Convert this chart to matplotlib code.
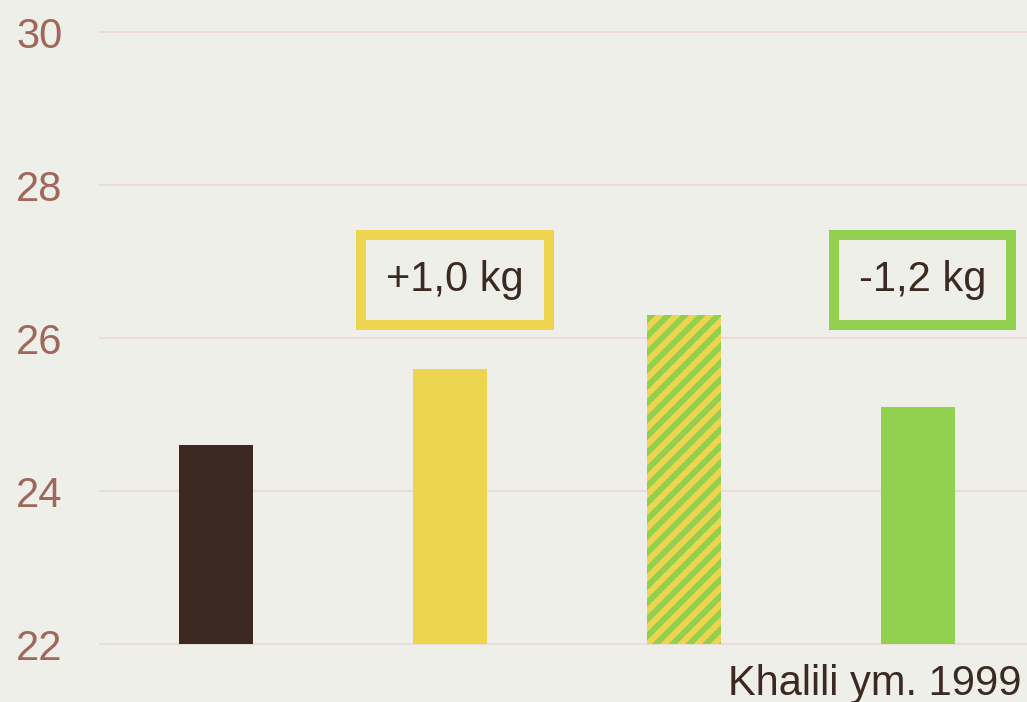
import matplotlib.pyplot as plt
import numpy as np

plt.rcParams['font.family'] = ['Liberation Sans', 'DejaVu Sans']
plt.rcParams['hatch.linewidth'] = 4.2

# data
groups = ['a', 'b', 'c', 'd']
values = [24.6, 25.6, 26.3, 25.1]
yticks = [22, 24, 26, 28, 30]
notes = ['+1,0 kg', '-1,2 kg']
note_pos = [1, 3]
source = 'Khalili ym. 1999'

bg = '#efefe9'
dark = '#3b2820'
yellow = '#edd54f'
green = '#92d050'
tick_col = '#a0675a'
text_col = '#3b2a22'

fig = plt.figure(figsize=(10.27, 7.02), dpi=100, facecolor=bg)
ax = fig.add_axes([0.0974, 0.0826, 0.9026, 0.8718], facecolor=bg)

x = np.arange(len(groups))
cols = [dark, yellow, yellow, green]
bars = ax.bar(x, np.array(values) - 22, bottom=22, width=0.316, color=cols, linewidth=0, zorder=2)
# striped bar
bars[2].set_hatch('//')
bars[2].set_edgecolor(green)
bars[2].set_linewidth(0)

ax.set_xlim(-0.496, 3.466)
ax.set_ylim(22, 30)
ax.set_yticks(yticks)
ax.set_yticklabels([str(t) for t in yticks], fontsize=30, color=tick_col)
ax.tick_params(axis='y', length=0, pad=27)
ax.set_xticks([])
for s in ax.spines.values():
    s.set_visible(False)
ax.yaxis.grid(True, color='#ebdcd6', linewidth=1.5)
ax.set_axisbelow(True)
for gl in ax.get_ygridlines():
    gl.set_clip_on(False)

box_cols = [yellow, green]
for t, p, c in zip(notes, note_pos, box_cols):
    ax.text(p + 0.02, 26.76, t, fontsize=30, color=text_col, ha='center', va='center',
            bbox=dict(boxstyle='square,pad=0.6', facecolor=bg, edgecolor=c, linewidth=7.2),
            zorder=3)

fig.text(0.995, 0.01, source, fontsize=30, color=text_col, ha='right', va='baseline')

fig.savefig('out.png', dpi=100, facecolor=bg)
